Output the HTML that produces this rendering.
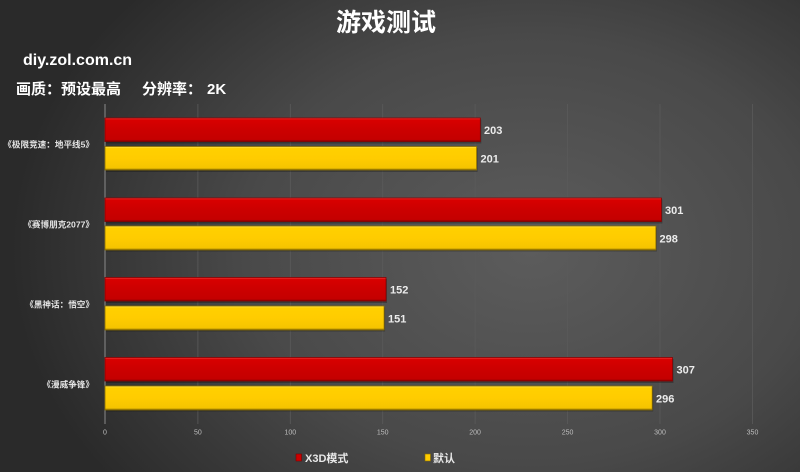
<!DOCTYPE html>
<html><head><meta charset="utf-8">
<style>
html,body{margin:0;padding:0;width:800px;height:472px;overflow:hidden;background:#3a3a3a;}
svg{display:block;}
text{font-family:"Liberation Sans","Noto Sans CJK SC",sans-serif;}
</style></head>
<body>
<svg width="800" height="472" viewBox="0 0 800 472" xmlns="http://www.w3.org/2000/svg">
<defs>
<radialGradient id="bg" cx="530" cy="250" r="520" gradientUnits="userSpaceOnUse" gradientTransform="translate(530 250) scale(1 0.75) translate(-530 -250)">
<stop offset="0" stop-color="#5c5c5c"/>
<stop offset="0.55" stop-color="#494949"/>
<stop offset="1" stop-color="#2a2a2a"/>
</radialGradient>
<linearGradient id="red" x1="0" y1="0" x2="0" y2="1">
<stop offset="0" stop-color="#f04040"/>
<stop offset="0.08" stop-color="#d80000"/>
<stop offset="0.5" stop-color="#cc0000"/>
<stop offset="0.92" stop-color="#c40000"/>
<stop offset="1" stop-color="#7a0000"/>
</linearGradient>
<linearGradient id="yel" x1="0" y1="0" x2="0" y2="1">
<stop offset="0" stop-color="#ffe860"/>
<stop offset="0.08" stop-color="#ffd000"/>
<stop offset="0.5" stop-color="#ffcc00"/>
<stop offset="0.92" stop-color="#f5c400"/>
<stop offset="1" stop-color="#7a6000"/>
</linearGradient>
</defs>
<rect width="800" height="472" fill="url(#bg)"/>

<text x="386" y="31" font-size="25" font-weight="bold" fill="#ffffff" text-anchor="middle">游戏测试</text>
<text x="23" y="65" font-size="16" font-weight="bold" fill="#ffffff">diy.zol.com.cn</text>
<text x="16" y="94" font-size="15" font-weight="bold" fill="#ffffff">画质：预设最高</text>
<text x="142" y="94" font-size="15" font-weight="bold" fill="#ffffff">分辨率：</text>
<text x="207" y="94" font-size="15" font-weight="bold" fill="#ffffff">2K</text>

<!-- gridlines -->
<g stroke="#5a5a5a" stroke-width="0.8">
<line x1="197.9" y1="104" x2="197.9" y2="424"/>
<line x1="290.3" y1="104" x2="290.3" y2="424"/>
<line x1="382.7" y1="104" x2="382.7" y2="424"/>
<line x1="475.1" y1="104" x2="475.1" y2="424"/>
<line x1="567.6" y1="104" x2="567.6" y2="424"/>
<line x1="660" y1="104" x2="660" y2="424"/>
<line x1="752.5" y1="104" x2="752.5" y2="424"/>
</g>
<line x1="105" y1="104" x2="105" y2="424" stroke="#8a8a8a" stroke-width="1"/>

<!-- tick labels -->
<g font-size="7" fill="#bdbdbd" text-anchor="middle">
<text x="105" y="434.5">0</text>
<text x="197.9" y="434.5">50</text>
<text x="290.3" y="434.5">100</text>
<text x="382.7" y="434.5">150</text>
<text x="475.1" y="434.5">200</text>
<text x="567.6" y="434.5">250</text>
<text x="660" y="434.5">300</text>
<text x="752.5" y="434.5">350</text>
</g>

<!-- bars -->
<g>
<rect x="106" y="119.5" width="375.3" height="24" fill="#000" opacity="0.25"/>
<rect x="105" y="118" width="375.3" height="23.5" fill="url(#red)" stroke="#8a0000" stroke-width="0.8"/>
<rect x="106" y="148" width="371.6" height="24" fill="#000" opacity="0.25"/>
<rect x="105" y="146.5" width="371.6" height="23.5" fill="url(#yel)" stroke="#8a6d00" stroke-width="0.8"/>

<rect x="106" y="199.5" width="556.4" height="24" fill="#000" opacity="0.25"/>
<rect x="105" y="198" width="556.4" height="23.5" fill="url(#red)" stroke="#8a0000" stroke-width="0.8"/>
<rect x="106" y="227.5" width="550.9" height="24" fill="#000" opacity="0.25"/>
<rect x="105" y="226" width="550.9" height="24" fill="url(#yel)" stroke="#8a6d00" stroke-width="0.8"/>

<rect x="106" y="279" width="281" height="24" fill="#000" opacity="0.25"/>
<rect x="105" y="277.5" width="281" height="23.5" fill="url(#red)" stroke="#8a0000" stroke-width="0.8"/>
<rect x="106" y="307.5" width="279.1" height="24" fill="#000" opacity="0.25"/>
<rect x="105" y="306" width="279.1" height="24" fill="url(#yel)" stroke="#8a6d00" stroke-width="0.8"/>

<rect x="106" y="359" width="567.5" height="24" fill="#000" opacity="0.25"/>
<rect x="105" y="357.5" width="567.5" height="23.5" fill="url(#red)" stroke="#8a0000" stroke-width="0.8"/>
<rect x="106" y="387.5" width="547.2" height="24" fill="#000" opacity="0.25"/>
<rect x="105" y="386" width="547.2" height="24" fill="url(#yel)" stroke="#8a6d00" stroke-width="0.8"/>
</g>

<!-- value labels -->
<g font-size="11" font-weight="bold" fill="#ececec">
<text x="484" y="134">203</text>
<text x="480.5" y="162.5">201</text>
<text x="665" y="214">301</text>
<text x="659.5" y="242.5">298</text>
<text x="390" y="293.5">152</text>
<text x="388" y="322.5">151</text>
<text x="676.5" y="373.5">307</text>
<text x="656" y="402.5">296</text>
</g>

<!-- category labels -->
<g font-size="8.6" font-weight="bold" fill="#e4e4e4" text-anchor="end">
<text x="94" y="147.5">《极限竞速：地平线5》</text>
<text x="94" y="227.5">《赛博朋克2077》</text>
<text x="94" y="307.5">《黑神话：悟空》</text>
<text x="94" y="387.5">《漫威争锋》</text>
</g>

<!-- legend -->
<rect x="296" y="454" width="5.5" height="7" fill="#cc0000" stroke="#7a0000" stroke-width="0.6"/>
<text x="305" y="462" font-size="11" font-weight="bold" fill="#e8e8e8">X3D模式</text>
<rect x="425" y="454" width="5.5" height="7" fill="#ffcc00" stroke="#8a6d00" stroke-width="0.6"/>
<text x="433" y="462" font-size="11" font-weight="bold" fill="#e8e8e8">默认</text>
</svg>
</body></html>
